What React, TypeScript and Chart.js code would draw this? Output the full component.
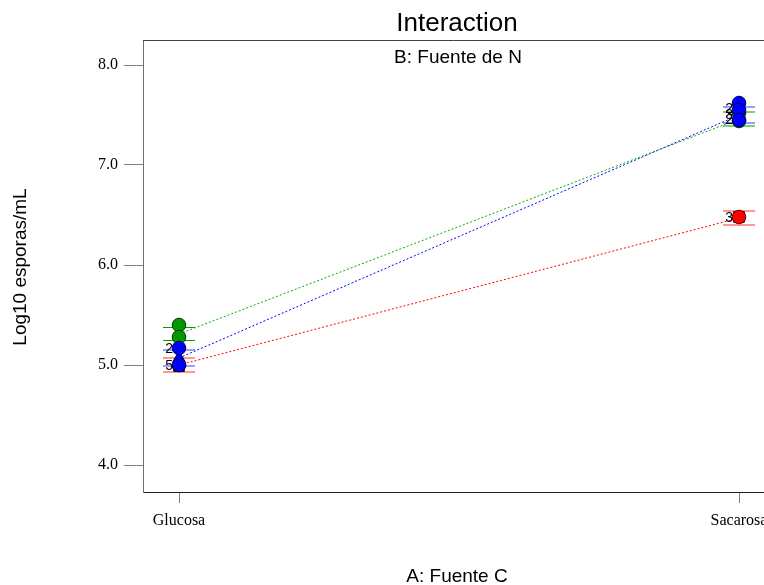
import React, { useEffect, useRef } from "react";
import { Chart, registerables } from "chart.js";

Chart.register(...registerables);

const categories = ["Glucosa", "Sacarosa"];
const yTicks = [4.0, 5.0, 6.0, 7.0, 8.0];

// Means of each level of B across A (Glucosa, Sacarosa)
const greenMeans = [5.31, 7.46];
const blueMeans = [5.07, 7.5];
const redMeans = [5.0, 6.47];

// Half LSD intervals
const greenLsd = [0.065, 0.07];
const blueLsd = [0.08, 0.08];
const redLsd = [0.07, 0.07];

// Design points [category index, value]
const greenPoints: [number, number][] = [[0, 5.4], [0, 5.28], [1, 7.52], [1, 7.44]];
const bluePoints: [number, number][] = [[0, 5.17], [0, 5.0], [1, 7.62], [1, 7.55], [1, 7.45]];
const blueTriangles: [number, number][] = [[0, 5.07]];
const redPoints: [number, number][] = [[0, 5.0], [1, 6.48]];
const blackSquares: [number, number][] = [[0, 4.99], [1, 6.48]];

// Count labels next to points
const countLabels: { x: number; y: number; text: string }[] = [
  { x: 0, y: 5.17, text: "2" },
  { x: 0, y: 5.0, text: "5" },
  { x: 1, y: 6.48, text: "3" },
  { x: 1, y: 7.57, text: "2" },
  { x: 1, y: 7.51, text: "3" },
  { x: 1, y: 7.46, text: "2" },
];

const toXY = (arr: [number, number][]) => arr.map(([x, y]) => ({ x, y }));
const meanXY = (m: number[]) => m.map((y, i) => ({ x: i, y }));
const lsdXY = (m: number[], l: number[]) =>
  m.flatMap((y, i) => [{ x: i, y: y + l[i] }, { x: i, y: y - l[i] }]);

export default function App() {
  const ref = useRef<HTMLCanvasElement>(null);
  useEffect(() => {
    if (!ref.current) return;
    const textPlugin = {
      id: "texts",
      afterDatasetsDraw(chart: any) {
        const { ctx, chartArea, scales } = chart;
        ctx.save();
        // top border
        ctx.strokeStyle = "#404040";
        ctx.lineWidth = 1;
        ctx.beginPath();
        ctx.moveTo(chartArea.left, chartArea.top + 0.5);
        ctx.lineTo(chartArea.right, chartArea.top + 0.5);
        ctx.stroke();
        // count labels
        ctx.fillStyle = "#000";
        ctx.font = "14px 'Liberation Sans', Arial, sans-serif";
        ctx.textAlign = "right";
        ctx.textBaseline = "middle";
        countLabels.forEach((l) => {
          const px = scales.x.getPixelForValue(l.x);
          const py = scales.y.getPixelForValue(l.y);
          ctx.fillText(l.text, px - 6, py + 1);
        });
        // titles
        ctx.textAlign = "center";
        ctx.font = "26px 'Liberation Sans', Arial, sans-serif";
        ctx.fillText("Interaction", 457, 24);
        ctx.font = "19px 'Liberation Sans', Arial, sans-serif";
        ctx.fillText("B: Fuente de N", 458, 58);
        ctx.fillText("A: Fuente C", 457, 577);
        ctx.save();
        ctx.translate(21, 267);
        ctx.rotate(-Math.PI / 2);
        ctx.fillText("Log10 esporas/mL", 0, 0);
        ctx.restore();
        ctx.restore();
      },
    };

    const lineDs = (data: any, color: string) => ({
      data,
      showLine: true,
      borderColor: color,
      borderWidth: 1,
      borderDash: [2, 2],
      pointRadius: 0,
      order: 5,
    });
    const lsdDs = (data: any, color: string) => ({
      data,
      showLine: false,
      pointStyle: "line",
      pointRadius: 16,
      borderColor: color,
      borderWidth: 1.2,
      order: 4,
    });
    const ptDs = (data: any, fill: string, border: string, style = "circle", r = 6.5, order = 1) => ({
      data,
      showLine: false,
      pointStyle: style,
      pointRadius: r,
      backgroundColor: fill,
      borderColor: border,
      borderWidth: 1,
      order,
    });

    const chart = new Chart(ref.current, {
      type: "scatter",
      data: {
        datasets: [
          lineDs(meanXY(greenMeans), "#00b000"),
          lineDs(meanXY(blueMeans), "#0000ff"),
          lineDs(meanXY(redMeans), "#ff0000"),
          lsdDs(lsdXY(greenMeans, greenLsd), "#00a000"),
          lsdDs(lsdXY(blueMeans, blueLsd), "#3c3cff"),
          lsdDs(lsdXY(redMeans, redLsd), "#ff3030"),
          ptDs(toXY(blackSquares), "#000000", "#000000", "rect", 7.5, 3),
          ptDs(toXY(redPoints), "#ff0000", "#600000", "circle", 6.8, 2),
          ptDs(toXY(greenPoints), "#009900", "#003300", "circle", 6.8, 1),
          ptDs(toXY(bluePoints), "#0000ff", "#000050", "circle", 6.8, 0),
          ptDs(toXY(blueTriangles), "#0000ff", "#000050", "triangle", 7, 0),
        ] as any,
      },
      options: {
        animation: false,
        responsive: false,
        layout: { autoPadding: false, padding: { top: 40, left: 0, right: 0, bottom: 0 } },
        plugins: {
          legend: { display: false },
          tooltip: { enabled: false },
          title: { display: false },
        },
        scales: {
          x: {
            type: "linear",
            min: -0.0643,
            max: 1.0446,
            afterBuildTicks: (s: any) => {
              s.ticks = categories.map((_, i) => ({ value: i }));
            },
            afterFit: (s: any) => {
              s.height = 93;
              s.paddingLeft = 0;
              s.paddingRight = 0;
            },
            ticks: {
              callback: (v: any) => categories[Math.round(Number(v))] ?? "",
              font: { family: "'Liberation Serif', 'Times New Roman', serif", size: 16 },
              color: "#000",
              padding: 8,
              maxRotation: 0,
              autoSkip: false,
            },
            grid: { drawOnChartArea: false, tickLength: 11, color: "#808080" },
            border: { color: "#202020" },
          },
          y: {
            type: "linear",
            min: 3.73,
            max: 8.25,
            afterBuildTicks: (s: any) => {
              s.ticks = yTicks.map((v) => ({ value: v }));
            },
            afterFit: (s: any) => {
              s.width = 143;
              s.paddingTop = 0;
              s.paddingBottom = 0;
            },
            ticks: {
              callback: (v: any) => Number(v).toFixed(1),
              font: { family: "'Liberation Serif', 'Times New Roman', serif", size: 16 },
              color: "#000",
              padding: 6,
            },
            grid: { drawOnChartArea: false, tickLength: 19, color: "#808080" },
            border: { color: "#707070" },
          },
        },
      },
      plugins: [textPlugin],
    });
    return () => chart.destroy();
  }, []);

  return (
    <div style={{ position: "fixed", left: 0, top: 0, width: 764, height: 585, background: "#fff" }}>
      <canvas ref={ref} width={764} height={585} style={{ width: 764, height: 585 }} />
    </div>
  );
}
